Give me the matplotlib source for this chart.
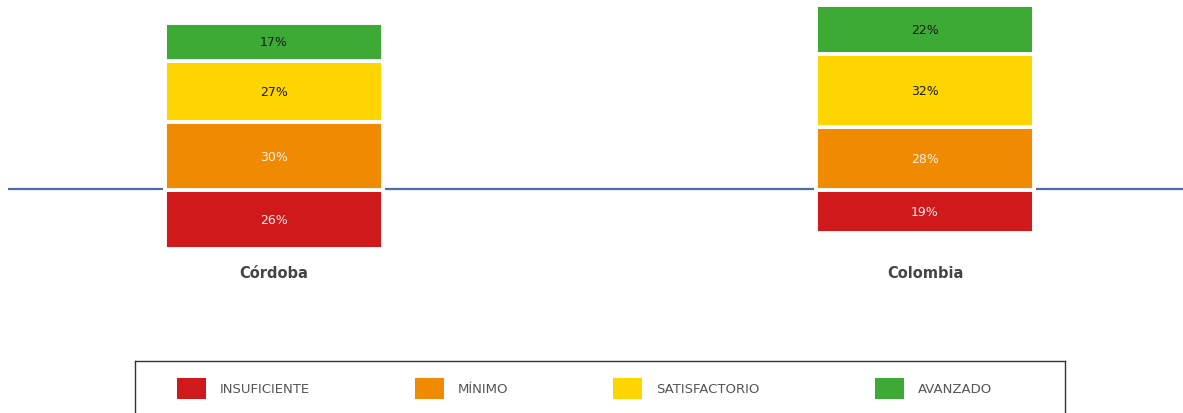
import numpy as np
import matplotlib.pyplot as plt
from matplotlib.patches import Rectangle

# data (percent)
regions = ['Córdoba', 'Colombia']
levels = ['INSUFICIENTE', 'MÍNIMO', 'SATISFACTORIO', 'AVANZADO']
insuficiente = [26, 19]
minimo = [30, 28]
satisfactorio = [27, 32]
avanzado = [17, 22]

colors = ['#D0191B', '#F08A00', '#FFD500', '#3DAA35']
text_colors = ['#FBEFEF', '#FDF1E6', '#1A1A1A', '#1A1A1A']

W, H = 1183, 414
fig = plt.figure(figsize=(W / 100, H / 100), dpi=100)

# main axes: pixel geometry of the reference
px_per_pct = 2.26
base_px = 191
ax_top, ax_bot = 0, 300
ax = fig.add_axes([8 / W, 1 - ax_bot / H, (W - 8) / W, (ax_bot - ax_top) / H])
x = np.arange(len(regions))
scale = 651.0
ax.set_xlim((8 - 274) / scale, (W - 274) / scale)
ax.set_ylim(-(ax_bot - base_px) / px_per_pct, base_px / px_per_pct)
width = 218 / scale

# insuficiente goes below the line, the rest stack above
bottom_neg = -np.array(insuficiente, dtype=float)
ax.bar(x, insuficiente, width, bottom=bottom_neg, color=colors[0],
       edgecolor='white', linewidth=2.8, zorder=3)
for i, v in enumerate(insuficiente):
    ax.text(x[i], -v / 2, f'{v}%', ha='center', va='center', fontsize=9,
            color=text_colors[0], family='DejaVu Sans', zorder=4)

bottom = np.zeros(len(regions))
for series, c, tc in zip([minimo, satisfactorio, avanzado], colors[1:], text_colors[1:]):
    ax.bar(x, series, width, bottom=bottom, color=c, edgecolor='white',
           linewidth=2.8, zorder=3)
    for i, v in enumerate(series):
        ax.text(x[i], bottom[i] + v / 2, f'{v}%', ha='center', va='center',
                fontsize=9, color=tc, family='DejaVu Sans', zorder=4)
    bottom += np.array(series)

ax.axhline(0.6, color='#4A6FA5', linewidth=1.6, zorder=2)

for i, name in enumerate(regions):
    ax.text(x[i], -(274 - base_px) / px_per_pct, name, ha='center', va='center',
            fontsize=10.5, fontweight='bold', color='#444444', family='DejaVu Sans')

ax.axis('off')

# legend box (bottom edge runs off the figure like the reference)
box_top = 362
lax = fig.add_axes([135 / W, -10 / H, 930 / W, (H - box_top + 10) / H])
lax.set_xlim(135, 1065)
lax.set_ylim(H + 10, box_top)
lax.set_xticks([])
lax.set_yticks([])
for s in lax.spines.values():
    s.set_color('#333333')
    s.set_linewidth(1.0)
key_x = [177, 415, 613, 875]
for kx, lab, c in zip(key_x, levels, colors):
    lax.add_patch(Rectangle((kx, 379), 29, 21, facecolor=c, edgecolor='none'))
    lax.text(kx + 43, 390, lab, ha='left', va='center', fontsize=9.5,
             color='#555555', family='DejaVu Sans')

fig.savefig('out.png', dpi=100)
